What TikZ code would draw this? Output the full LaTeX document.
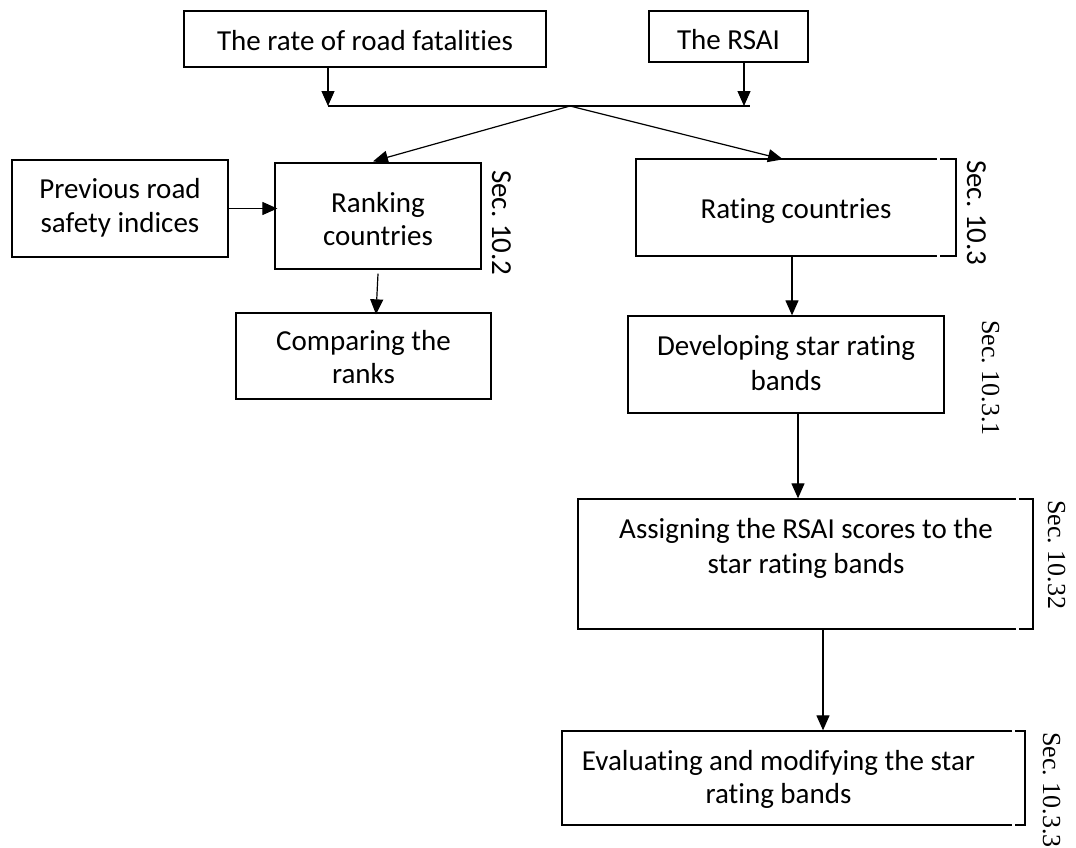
\documentclass[tikz,border=0pt]{standalone}
\usepackage{fontspec}
\setmainfont{Carlito}[Ligatures=NoCommon]
\newfontfamily\serifsec{Liberation Serif}
\usetikzlibrary{arrows.meta}
\frenchspacing
\begin{document}
\begin{tikzpicture}[x=1pt,y=-1pt,
  box/.style={draw, line width=1.3pt, inner sep=0pt, rectangle},
  txt/.style={anchor=base, inner sep=0pt, font=\fontsize{29}{35}\selectfont},
  sec/.style={rotate=-90, anchor=base west, inner sep=0pt, font=\fontsize{29}{35}\selectfont},
  secserif/.style={rotate=-90, anchor=base west, inner sep=0pt, font=\serifsec\fontsize{26}{31}\selectfont},
  link/.style={line width=1.2pt},
  arr/.style={link, -{Triangle[width=13pt,length=15pt]}},
  gap/.style={white, line width=3pt}
]
\useasboundingbox (0,0) rectangle (1076,847);

% boxes
\node[box, minimum width=362pt, minimum height=56pt] (rate) at (365,39) {};
\node[box, minimum width=159pt, minimum height=51pt] (rsai) at (728.5,36.5) {};
\node[box, minimum width=216pt, minimum height=97pt] (prev) at (120,208.5) {};
\node[box, minimum width=206pt, minimum height=106pt] (rank) at (378,216) {};
\node[box, minimum width=255pt, minimum height=86pt] (comp) at (363.5,356) {};
\node[box, minimum width=320pt, minimum height=97pt] (rating) at (796,207.5) {};
\node[box, minimum width=316pt, minimum height=97pt] (dev) at (786,364.5) {};
\node[box, minimum width=455pt, minimum height=130pt] (assign) at (805.5,564) {};
\node[box, minimum width=463pt, minimum height=94pt] (eval) at (793.5,778) {};

% small breaks in the right-hand box borders
\draw[gap] (936.5,159) -- (939.5,159);
\draw[gap] (936.5,256) -- (939.5,256);
\draw[gap] (1015.5,499) -- (1018.5,499);
\draw[gap] (1015.5,629) -- (1018.5,629);
\draw[gap] (1011.5,731) -- (1014.5,731);
\draw[gap] (1011.5,825) -- (1014.5,825);

% box texts
\node[txt] (rate-t) at (365,50) {The rate of road fatalities};
\node[txt] (rsai-t) at (728.5,49) {The RSAI};
\node[txt] (prev-t1) at (120,198) {Previous road};
\node[txt] (prev-t2) at (120,232) {safety indices};
\node[txt] (rank-t1) at (378,212) {Ranking};
\node[txt] (rank-t2) at (378,245) {countries};
\node[txt] (comp-t1) at (363.5,350) {Comparing the};
\node[txt] (comp-t2) at (363.5,383) {ranks};
\node[txt] (rating-t) at (796,218) {Rating countries};
\node[txt] (dev-t1) at (786,355) {Developing star rating};
\node[txt] (dev-t2) at (786,390) {bands};
\node[txt] (assign-t1) at (806,538) {Assigning the RSAI scores to the};
\node[txt] (assign-t2) at (806,573) {star rating bands};
\node[txt] (eval-t1) at (778.5,770) {Evaluating and modifying the star};
\node[txt] (eval-t2) at (778.5,803) {rating bands};

% section references
\node[sec] (s102) at (492,170) {Sec. 10.2};
\node[sec] (s103) at (967,160) {Sec. 10.3};
\node[secserif] (s1031) at (982,320) {Sec. 10.3.1};
\node[secserif] (s1032) at (1048,500) {Sec. 10.32};
\node[secserif] (s1033) at (1043,732) {Sec. 10.3.3};

% merging line
\coordinate (jl) at (328,106);
\coordinate (jr) at (750,106);
\coordinate (jra) at (744,106);
\coordinate (jc) at (570,106);
\draw[arr] (rate.south -| jl) -- (jl);
\draw[arr] (rsai.south -| jra) -- (jra);
\draw[link] (jl) -- (jr);
\draw[arr] (jc) -- ([xshift=-5pt,yshift=1pt]rank.north);
\draw[arr] (jc) -- ([xshift=-13pt,yshift=-1pt]rating.north);

% flow connectors
\draw[arr] (prev.east) -- ([xshift=3pt]rank.west |- prev.east);
\draw[arr] ([yshift=-4pt]rank.south) -- ([xshift=12.5pt,yshift=-2pt]comp.north);
\draw[arr] ([xshift=-4pt]rating.south) -- ([xshift=6pt]dev.north);
\draw[arr] ([xshift=12pt]dev.south) -- ([xshift=-7.5pt]assign.north);
\draw[arr] ([xshift=17.5pt]assign.south) -- ([xshift=29.5pt]eval.north);
\end{tikzpicture}
\end{document}
